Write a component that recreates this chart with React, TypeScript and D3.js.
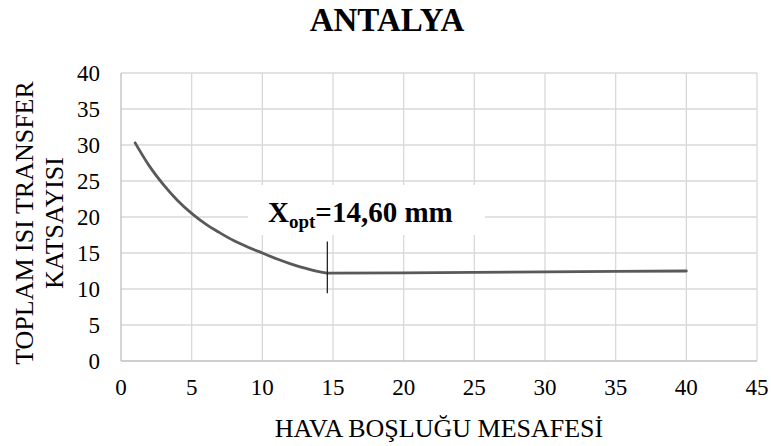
import React, { useEffect, useRef } from 'react';
import * as d3 from 'd3';

// curve part (decreasing) up to the optimum
const declineX = [1, 2, 3, 4, 5, 6, 7, 8, 9, 10, 11, 12, 13, 14, 14.6];
const declineY = [30.3, 27.1, 24.5, 22.3, 20.5, 19.0, 17.8, 16.7, 15.8, 15.0, 14.2, 13.5, 12.9, 12.4, 12.2];
// plateau after the optimum
const plateauX = [14.6, 20, 25, 30, 35, 40];
const plateauY = [12.2, 12.25, 12.3, 12.38, 12.45, 12.5];

const xTicks = [0, 5, 10, 15, 20, 25, 30, 35, 40, 45];
const yTicks = [0, 5, 10, 15, 20, 25, 30, 35, 40];
const xOpt = 14.6;
const markerRange = [9.4, 16.6];

const W = 771;
const H = 446;
const FONT = 'Liberation Serif, Times New Roman, serif';

export default function App() {
  const svgRef = useRef<SVGSVGElement>(null);

  useEffect(() => {
    if (!svgRef.current) return;
    const svg = d3.select(svgRef.current);
    svg.selectAll('*').remove();

    const margin = { top: 73, right: 14, bottom: 85, left: 121 };
    const width = W - margin.left - margin.right;
    const height = H - margin.top - margin.bottom;

    const x = d3.scaleLinear().domain([0, 45]).range([0, width]);
    const y = d3.scaleLinear().domain([0, 40]).range([height, 0]);

    const g = svg.append('g').attr('transform', `translate(${margin.left},${margin.top})`);

    // grid
    g.append('g')
      .selectAll('line')
      .data(yTicks.slice(1))
      .join('line')
      .attr('x1', 0)
      .attr('x2', width)
      .attr('y1', d => y(d))
      .attr('y2', d => y(d))
      .attr('stroke', '#d9d9d9')
      .attr('stroke-width', 1.3);

    g.append('g')
      .selectAll('line')
      .data(xTicks.slice(1))
      .join('line')
      .attr('x1', d => x(d))
      .attr('x2', d => x(d))
      .attr('y1', 0)
      .attr('y2', height)
      .attr('stroke', '#d9d9d9')
      .attr('stroke-width', 1.3);

    // axes lines
    g.append('line').attr('x1', 0).attr('x2', 0).attr('y1', 0).attr('y2', height)
      .attr('stroke', '#bfbfbf').attr('stroke-width', 1.3);
    g.append('line').attr('x1', 0).attr('x2', width).attr('y1', height).attr('y2', height)
      .attr('stroke', '#bfbfbf').attr('stroke-width', 1.3);

    // tick labels
    g.append('g')
      .selectAll('text')
      .data(yTicks)
      .join('text')
      .attr('x', -21)
      .attr('y', d => y(d) + 8)
      .attr('text-anchor', 'end')
      .style('font-family', FONT)
      .attr('font-size', 23)
      .attr('fill', '#000')
      .text(d => d);

    g.append('g')
      .selectAll('text')
      .data(xTicks)
      .join('text')
      .attr('x', d => x(d))
      .attr('y', height + 34)
      .attr('text-anchor', 'middle')
      .style('font-family', FONT)
      .attr('font-size', 23)
      .attr('fill', '#000')
      .text(d => d);

    // series
    const curve = d3.line<number>()
      .x((d, i) => x(declineX[i]))
      .y(d => y(d))
      .curve(d3.curveMonotoneX);
    g.append('path')
      .datum(declineY)
      .attr('fill', 'none')
      .attr('stroke', '#595959')
      .attr('stroke-width', 2.8)
      .attr('stroke-linecap', 'round')
      .attr('d', curve);

    const flat = d3.line<number>()
      .x((d, i) => x(plateauX[i]))
      .y(d => y(d));
    g.append('path')
      .datum(plateauY)
      .attr('fill', 'none')
      .attr('stroke', '#595959')
      .attr('stroke-width', 2.8)
      .attr('stroke-linecap', 'round')
      .attr('d', flat);

    // optimum marker
    g.append('line')
      .attr('x1', x(xOpt)).attr('x2', x(xOpt))
      .attr('y1', y(markerRange[0])).attr('y2', y(markerRange[1]))
      .attr('stroke', '#262626').attr('stroke-width', 1.3);

    // label with white box
    g.append('rect')
      .attr('x', 127).attr('y', 112)
      .attr('width', 237).attr('height', 50)
      .attr('fill', '#fff');
    const lbl = g.append('text')
      .attr('x', 147).attr('y', 149)
      .style('font-family', FONT)
      .attr('font-weight', 'bold')
      .attr('font-size', 29)
      .attr('fill', '#000');
    lbl.append('tspan').text('X');
    lbl.append('tspan').attr('font-size', 19).attr('dy', 6).text('opt');
    lbl.append('tspan').attr('dy', -6).text('=14,60 mm');

    // titles
    svg.append('text')
      .attr('x', 387).attr('y', 31)
      .attr('text-anchor', 'middle')
      .style('font-family', FONT)
      .attr('font-weight', 'bold')
      .attr('font-size', 33)
      .attr('fill', '#000')
      .text('ANTALYA');

    svg.append('text')
      .attr('x', margin.left + width / 2).attr('y', 437)
      .attr('text-anchor', 'middle')
      .style('font-family', FONT)
      .attr('font-size', 26)
      .attr('fill', '#000')
      .text('HAVA BOŞLUĞU MESAFESİ');

    const yt = svg.append('text')
      .attr('transform', `translate(0,${margin.top + height / 2 + 6}) rotate(-90)`)
      .attr('text-anchor', 'middle')
      .style('font-family', FONT)
      .attr('font-size', 26)
      .attr('fill', '#000');
    yt.append('tspan').attr('x', 0).attr('y', 33).text('TOPLAM ISI TRANSFER');
    yt.append('tspan').attr('x', 0).attr('y', 63).text('KATSAYISI');
  }, []);

  return (
    <svg
      ref={svgRef}
      width={W}
      height={H}
      style={{ position: 'absolute', left: 0, top: 0, background: '#fff' }}
    />
  );
}
